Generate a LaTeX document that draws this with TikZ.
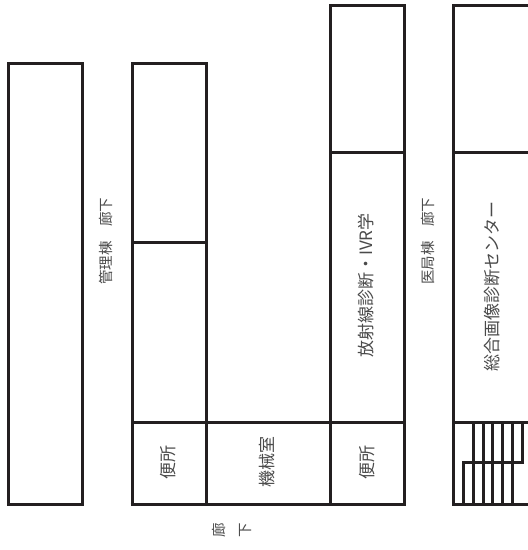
\documentclass[tikz,border=0pt]{standalone}
\usepackage{fontspec}
\setmainfont{Noto Sans CJK JP}
\definecolor{wallc}{HTML}{231F20}
\definecolor{textc}{HTML}{4A4A4A}
\tikzset{
  wall/.style={draw=wallc,line width=3.7pt,line cap=butt,line join=miter},
  stair/.style={draw=wallc,line width=3.3pt,line cap=butt},
  room/.style={rotate=90,text=textc,inner sep=0pt,font=\fontsize{17}{18}\selectfont},
  hall/.style={rotate=90,text=textc,inner sep=0pt,font=\fontsize{14.5}{15}\selectfont},
}
\begin{document}
\begin{tikzpicture}[x=1pt,y=-1pt]
\useasboundingbox (0,0) rectangle (528,550);
% left block
\draw[wall] (8.5,63.5) rectangle (82.5,504.5);
% middle block
\draw[wall] (132.5,504.5) -- (132.5,63.5) -- (206.5,63.5) -- (206.5,504.5);
\draw[wall] (132.5,242.5) -- (206.5,242.5);
\draw[wall] (132.5,422.5) -- (404.5,422.5);
\draw[wall] (130.65,504.5) -- (406.35,504.5);
% radiology column
\draw[wall] (330.5,504.5) -- (330.5,5.5) -- (404.5,5.5) -- (404.5,504.5);
\draw[wall] (330.5,152.5) -- (404.5,152.5);
% right block
\draw[wall] (528,5.5) -- (453.5,5.5) -- (453.5,504.5) -- (528,504.5);
\draw[wall] (453.5,152.5) -- (528,152.5);
\draw[wall] (453.5,422.5) -- (528,422.5);
% stairs
\draw[stair] (473.5,422.5) -- (473.5,504.5);
\draw[stair] (483.5,422.5) -- (483.5,504.5);
\draw[stair] (492.5,422.5) -- (492.5,504.5);
\draw[stair] (502.5,422.5) -- (502.5,504.5);
\draw[stair] (512.5,422.5) -- (512.5,504.5);
\draw[stair] (522.5,422.5) -- (522.5,462.5) -- (463.5,462.5) -- (463.5,504.5);
% labels
\node[room] (toilet1) at (168,462) {便所};
\node[room] (machine) at (267.5,462) {機械室};
\node[room] (toilet2) at (367,462) {便所};
\node[room] (rad) at (366,285.5) {放射線診断・IVR学};
\node[room] (center) at (492,286) {総合画像診断センター};
\node[hall] (kanri) at (106,241) {管理棟　廊下};
\node[hall] (ikyoku) at (428,241) {医局棟　廊下};
\node[hall] (ro) at (219,530) {廊};
\node[hall] (ka) at (246,530) {下};
\end{tikzpicture}
\end{document}
